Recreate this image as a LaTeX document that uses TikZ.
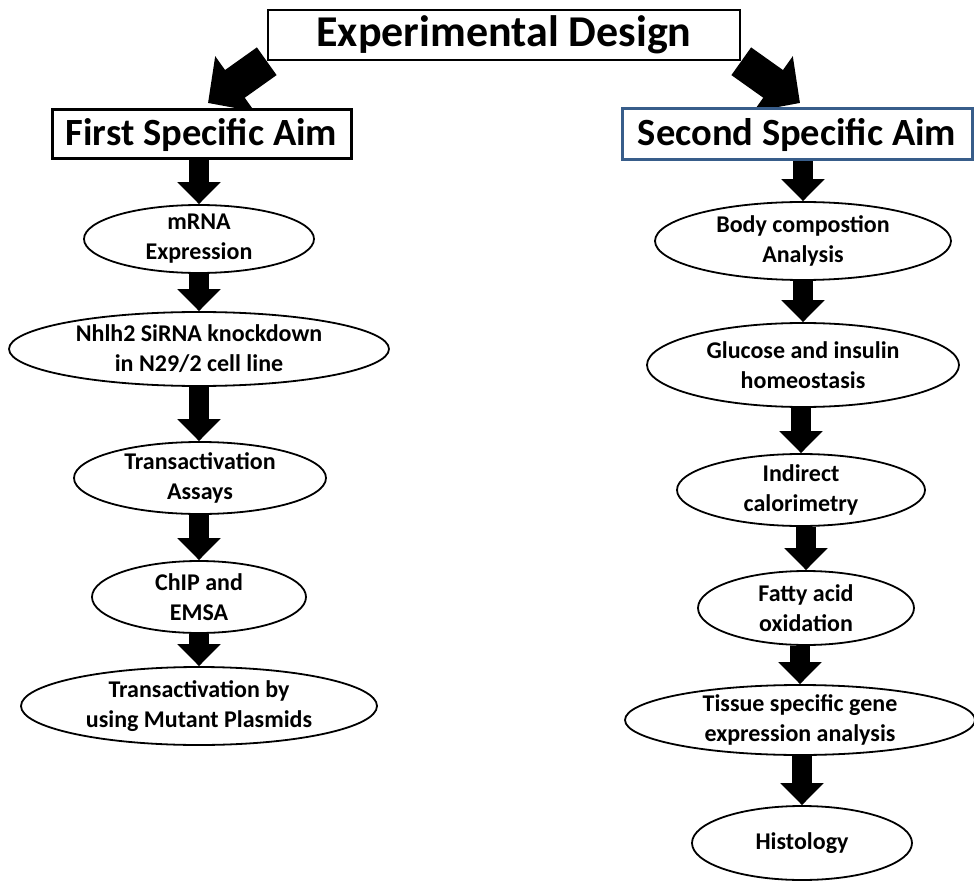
\documentclass[tikz,border=0pt]{standalone}
\usepackage{fontspec}
\setmainfont{Carlito}
\usetikzlibrary{shapes.geometric,arrows.meta,backgrounds}
\definecolor{aimblue}{RGB}{56,93,138}
\begin{document}
\begin{tikzpicture}[x=1pt,y=-1pt,
  titlebox/.style={draw, line width=2.5pt, fill=white, minimum width=472pt, minimum height=50pt, inner sep=0pt, font=\fontsize{44}{50}\selectfont\bfseries},
  aimbox/.style={draw, line width=3pt, fill=white, inner sep=0pt, font=\fontsize{38.5}{44}\selectfont\bfseries},
  stage/.style={ellipse, draw, line width=1.8pt, fill=white, inner xsep=0pt, inner ysep=-8pt, align=center, font=\fontsize{24}{30}\selectfont\bfseries},
  flow/.style={line width=20pt, -{Triangle[width=42pt,length=22pt]}},
  bigflow/.style={line width=34pt, -{Triangle[width=66pt,length=33pt]}}
]
\useasboundingbox (0,0) rectangle (974,882);

% headers
\node[titlebox] (title) at (504,35) {Experimental Design};
\node[aimbox, minimum width=299pt, minimum height=49pt] (aim1) at (201.5,134.5) {First Specific Aim};
\node[aimbox, draw=aimblue, minimum width=350pt, minimum height=51pt] (aim2) at (797,134.5) {Second Specific Aim};

% first aim
\node[stage, minimum width=230pt, minimum height=68pt] (mrna) at (199,239) {mRNA\\Expression};
\node[stage, minimum width=380pt, minimum height=74pt] (sirna) at (199,349) {Nhlh2 SiRNA knockdown\\in N29/2 cell line};
\node[stage, minimum width=252pt, minimum height=72pt] (trans) at (200,478) {Transactivation\\Assays};
\node[stage, minimum width=214pt, minimum height=72pt] (chip) at (199,597) {ChIP and\\EMSA};
\node[stage, minimum width=356pt, minimum height=78pt] (mutant) at (199,706) {Transactivation by\\using Mutant Plasmids};

% second aim
\node[stage, minimum width=296pt, minimum height=78pt] (body) at (803,241) {Body compostion\\Analysis};
\node[stage, minimum width=312pt, minimum height=84pt] (gluc) at (803,365) {Glucose and insulin\\homeostasis};
\node[stage, minimum width=248pt, minimum height=72pt] (calor) at (801,490) {Indirect\\calorimetry};
\node[stage, minimum width=216pt, minimum height=74pt] (fatty) at (806,608) {Fatty acid\\oxidation};
\node[stage, minimum width=350pt, minimum height=70pt] (tissue) at (800,720) {Tissue specific gene\\expression analysis};
\node[stage, minimum width=220pt, minimum height=74pt] (histo) at (802,843) {Histology};

\coordinate (lt) at (208,103);
\coordinate (rt) at (800,103);

\begin{scope}[on background layer]
  \fill[white] (0,0) rectangle (974,882);
  \draw[bigflow] (title.south west) -- (lt);
  \draw[bigflow] (title.south east) -- (rt);
  \draw[flow] (aim1.south -| mrna.north) -- (mrna.north);
  \draw[flow] (mrna.south) -- (sirna.north);
  \draw[flow] (sirna.south) -- (trans.north -| sirna.south);
  \draw[flow] (trans.south -| chip.north) -- (chip.north);
  \draw[flow] (chip.south) -- (mutant.north);
  \draw[flow] (aim2.south -| body.north) -- (body.north);
  \draw[flow] (body.south) -- (gluc.north);
  \draw[flow] (gluc.south -| calor.north) -- (calor.north);
  \draw[flow] (calor.south -| fatty.north) -- (fatty.north);
  \draw[flow] (fatty.south -| tissue.north) -- (tissue.north);
  \draw[flow] (tissue.south -| histo.north) -- (histo.north);
\end{scope}
\end{tikzpicture}
\end{document}
